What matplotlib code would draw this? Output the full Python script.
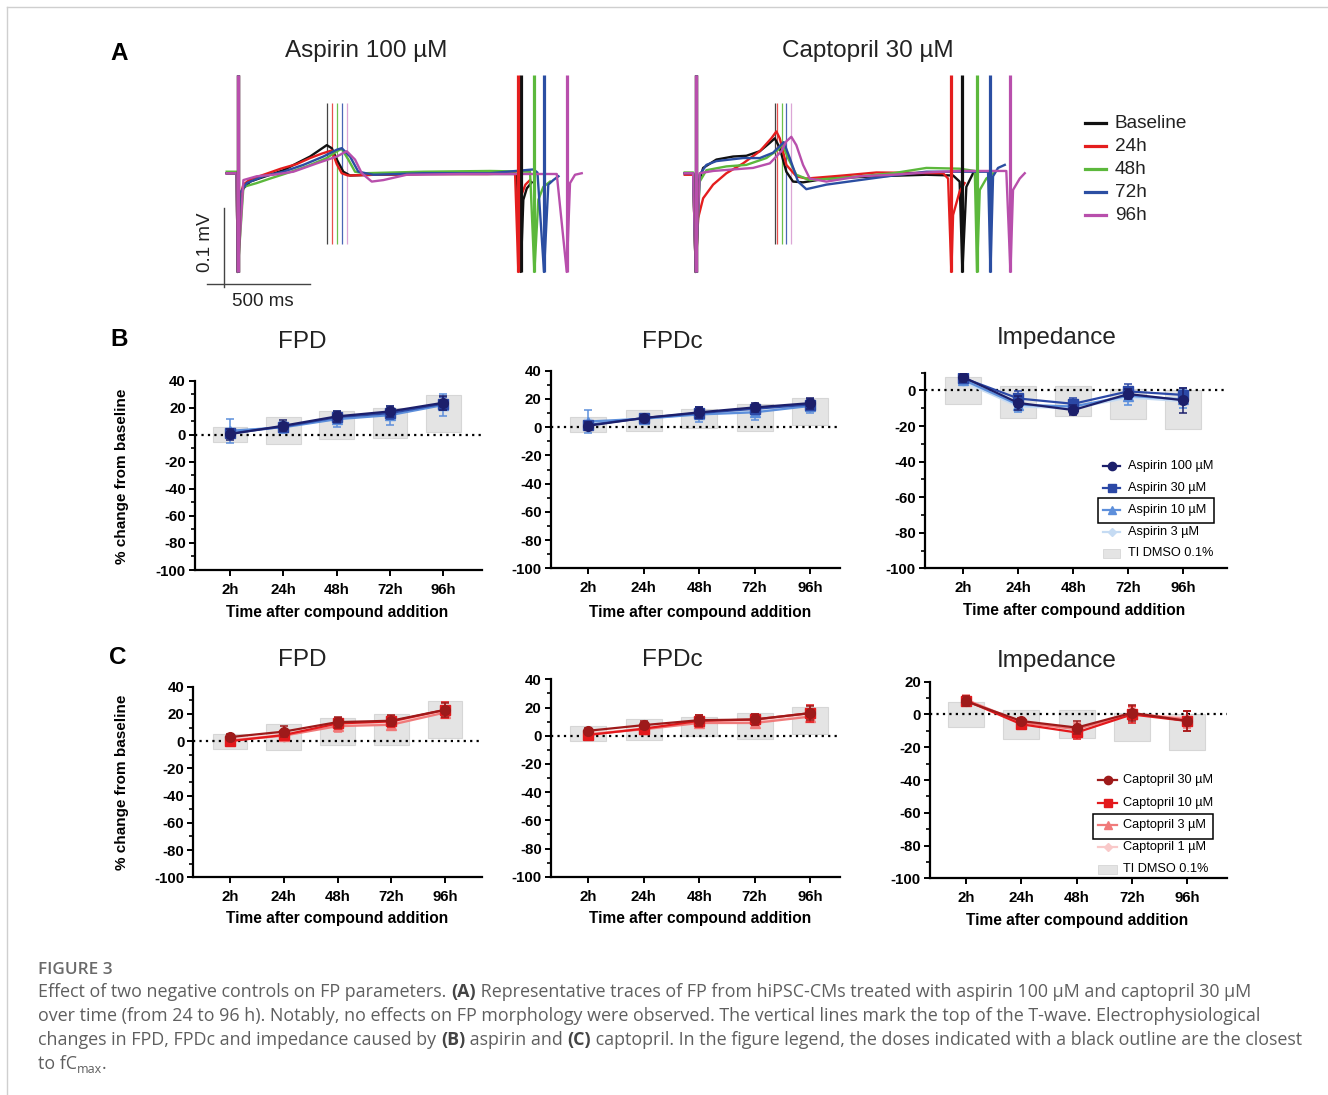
import matplotlib
matplotlib.use('Agg')
import matplotlib.pyplot as plt
from matplotlib.lines import Line2D
from matplotlib.patches import Rectangle
from matplotlib.ticker import MultipleLocator
import numpy as np

plt.rcParams['font.family'] = ['Liberation Sans', 'DejaVu Sans']
plt.rcParams['axes.unicode_minus'] = False

# ====================== DATA ======================
# ---- Panel A: representative field-potential traces (time in ms, voltage in uV)
TRACE_LABELS = ['Baseline', '24h', '48h', '72h', '96h']

ASP_BASE_T = [-64, -6, 0, 14, 33, 72, 110, 188, 265, 342, 420, 478, 517, 546, 575, 613, 652, 788, 1078, 1465, 1620, 1643, 1658, 1678, 1707]
ASP_BASE_V = [0, 0, -130, -35, -20, -11, -8, -2, 4, 13, 22, 31, 37, 33, 18, 2, -3, -2, -1, -1, -1, -130, -35, -20, -12]
ASP_24_T = [-64, -6, 0, 14, 33, 72, 150, 250, 342, 420, 490, 546, 575, 604, 640, 800, 1100, 1450, 1610, 1629, 1645, 1670, 1697]
ASP_24_V = [0, 0, -130, -30, -15, -8, -2, 6, 12, 20, 26, 30, 12, 0, -3, -2, -1, -1, 0, -130, -30, -15, -9]
ASP_48_T = [-64, -6, 0, 33, 110, 188, 284, 400, 517, 575, 604, 642, 681, 730, 1078, 1465, 1697, 1722, 1745, 1774, 1813]
ASP_48_V = [2, 2, -130, -18, -13, -7, 0, 9, 20, 29, 32, 18, 2, 0, 2, 3, 2, -130, -35, -18, -11]
ASP_72_T = [-64, -6, 0, 14, 52, 149, 265, 381, 497, 575, 604, 652, 700, 788, 1078, 1465, 1716, 1740, 1778, 1803, 1832, 1862]
ASP_72_V = [0, 0, -130, -26, -13, -4, 2, 11, 22, 31, 33, 22, 2, -2, 0, 0, 5, 1, -130, -15, -9, -4]
ASP_96_T = [-64, -6, 0, 33, 110, 207, 323, 459, 575, 633, 681, 720, 778, 846, 981, 1300, 1852, 1910, 1929, 1958, 1997]
ASP_96_V = [0, 0, -130, -9, -4, -2, 2, 13, 22, 29, 18, 0, -11, -9, -2, -1, -1, -130, -13, -2, 0]
ASP_SPIKE2 = [1643, 1629, 1722, 1778, 1910]
ASP_TPEAK = [517, 546, 575, 608, 633]

CAP_BASE_T = [-64, -15, 0, 14, 43, 120, 217, 294, 372, 430, 459, 488, 526, 565, 623, 759, 1049, 1339, 1494, 1532, 1548, 1571, 1610]
CAP_BASE_V = [0, 0, -130, -15, 7, 18, 22, 23, 29, 40, 46, 33, 2, -11, -12, -7, -4, -2, -3, -11, -130, -18, 0]
CAP_24_T = [-64, -15, 0, 14, 43, 101, 178, 275, 372, 439, 468, 488, 526, 584, 642, 855, 1049, 1436, 1465, 1484, 1494, 1532, 1561]
CAP_24_V = [-2, -2, -130, -59, -33, -15, 0, 13, 29, 46, 55, 46, 11, -4, -7, -3, 1, 0, -7, -130, -55, -24, -13]
CAP_48_T = [-64, -15, 0, 23, 62, 178, 294, 410, 478, 503, 536, 584, 662, 855, 1146, 1339, 1532, 1620, 1633, 1649, 1687, 1726]
CAP_48_V = [1, 1, -130, -11, 4, 9, 11, 20, 31, 38, 20, -2, -9, -6, 0, 7, 6, 3, -130, -22, -7, 0]
CAP_72_T = [-64, -15, 0, 23, 62, 120, 275, 372, 449, 511, 546, 594, 642, 759, 952, 1146, 1339, 1697, 1711, 1726, 1755, 1794]
CAP_72_V = [0, 0, -130, -2, 11, 16, 20, 20, 27, 41, 20, -11, -21, -15, -9, -3, 2, 2, -130, -4, 7, 11]
CAP_96_T = [-64, -15, 0, 23, 101, 217, 333, 430, 497, 526, 555, 584, 623, 662, 759, 952, 1146, 1339, 1532, 1803, 1827, 1842, 1881, 1910]
CAP_96_V = [0, 0, -130, 0, 3, 5, 7, 13, 29, 42, 48, 37, 11, -7, -11, -4, -2, 1, 3, 3, -130, -22, -7, 0]
CAP_SPIKE2 = [1548, 1484, 1633, 1711, 1827]
CAP_TPEAK = [459, 472, 503, 522, 551]

SCALE_MS = 500
SCALE_UV = 100

# ---- Panels B / C: % change from baseline
TIMEPOINTS = ['2h', '24h', '48h', '72h', '96h']

# tolerance interval of DMSO 0.1 % (low / high)
TI_FPD_LO = [-5.7, -6.7, -3.0, -2.5, 2.0]
TI_FPD_HI = [5.4, 12.8, 17.3, 20.1, 29.5]
TI_FPDC_LO = [-3.7, -3.0, -0.5, -2.6, 1.3]
TI_FPDC_HI = [7.0, 12.0, 13.2, 16.3, 20.5]
TI_IMP_LO = [-7.8, -15.2, -14.5, -16.3, -21.4]
TI_IMP_HI = [7.6, 2.5, 2.5, 0.6, 0.4]

ASP_LABELS = ['Aspirin 100 µM', 'Aspirin 30 µM', 'Aspirin 10 µM', 'Aspirin 3 µM']
ASP_FPD = [[0.5, 6.7, 13.6, 17.3, 23.7], [1, 6, 13, 16, 23], [3, 5.5, 11.5, 14.5, 22], [2, 6, 12, 15, 23]]
ASP_FPD_ERR = [[4, 4, 4, 4, 5], [3, 3, 4, 4, 5], [9, 4, 6, 7, 8], [3, 3, 4, 4, 5]]
ASP_FPDC = [[1, 6.5, 10.5, 14, 17], [1.5, 6.5, 10, 13, 16], [4, 6, 9, 10.5, 15], [3, 6, 9.5, 11, 15.5]]
ASP_FPDC_ERR = [[3, 2, 4, 3, 4], [3, 2, 4, 3, 4], [8, 2, 5, 5.5, 5], [3, 2, 4, 4, 4]]
ASP_IMP = [[7.5, -7, -11, -2, -5.5], [7, -4.5, -7.5, -0.5, -2.5], [6, -8, -9, -3, -5], [5, -9, -10, -4, -6]]
ASP_IMP_ERR = [[3, 4, 3, 3, 7], [3, 4, 3, 4, 4], [3, 4, 3, 5, 5], [2, 3, 3, 4, 4]]

CAP_LABELS = ['Captopril 30 µM', 'Captopril 10 µM', 'Captopril 3 µM', 'Captopril 1 µM']
CAP_FPD = [[3, 7, 14, 15, 23], [0, 4.5, 13, 14.5, 23], [0.5, 4, 11, 12, 21], [1, 5, 12, 13, 22]]
CAP_FPD_ERR = [[2, 4, 4, 4, 5], [2, 3, 4, 4, 6], [2, 3, 4, 4, 4], [2, 3, 3, 3, 4]]
CAP_FPDC = [[3.5, 7.5, 11, 11.5, 16], [0.5, 5, 10.5, 11.5, 16], [1, 4.5, 9, 9, 13.5], [1.5, 5, 9.5, 10, 14]]
CAP_FPDC_ERR = [[2, 3, 4, 4, 5], [2, 3, 4, 4, 6], [2, 3, 3, 3, 4], [2, 2, 3, 3, 3]]
CAP_IMP = [[8, -4, -8, 1, -4], [8.5, -6, -11, 0, -4], [9, -5, -9, 0.5, -3], [9, -4.5, -8.5, 0, -2]]
CAP_IMP_ERR = [[3, 2, 4, 5, 6], [3, 3, 4, 5, 6], [3, 3, 4, 4, 5], [2, 2, 3, 3, 4]]

# ====================== STYLE ======================
W, H = 1328, 1095
fig = plt.figure(figsize=(W / 100, H / 100), dpi=100)
fig.patch.set_facecolor('white')

TRACE_COLORS = ['#111111', '#e41e1e', '#5cb83c', '#2b4ea2', '#b84fac']
MARK_COLORS = ['#444444', '#e8504f', '#6cc04c', '#4a66b4', '#dba6d6']
ASP_COLORS = ['#1c1f6b', '#2b48a6', '#5d8fdb', '#c5dbf3']
CAP_COLORS = ['#9e1a1a', '#e3191c', '#f07a7a', '#f9c9c9']
MARKERS = ['o', 's', '^', 'D']
MSIZES = [7, 6.5, 6.5, 4.5]
BAR_COLOR = '#e4e4e4'


def fx(x):
    return x / W


def fy(y):
    return 1 - y / H


def add_axes_px(x0, y0, x1, y1):
    return fig.add_axes([x0 / W, 1 - y1 / H, (x1 - x0) / W, (y1 - y0) / H])


def ftext(x, y, s, **kw):
    return fig.text(fx(x), fy(y), s, **kw)


# ---------------- outer light border ----------------
fig.add_artist(Line2D([fx(7), fx(7)], [fy(7), fy(1095)], color='#cfcfcf', lw=1.0, transform=fig.transFigure))
fig.add_artist(Line2D([fx(7), fx(1328)], [fy(7), fy(7)], color='#cfcfcf', lw=1.0, transform=fig.transFigure))

# ---------------- Panel A ----------------
def trace_panel(x0, traces, spike2, tpeak, scalebar=False):
    ax = add_axes_px(x0, 70, x0 + 390, 300)
    ax.set_xlim(-219, 2045)
    ax.set_ylim(-167, 136)
    ax.axis('off')
    for i, (t, v) in enumerate(traces):
        ax.plot(t, v, color=TRACE_COLORS[i], lw=1.7, zorder=3 + i, solid_joinstyle='round')
    for i in range(5):
        ax.vlines(tpeak[i], -93, 93, color=MARK_COLORS[i], lw=0.9, zorder=2)
    for i in range(5):
        ax.vlines(0, -130, 130, color=TRACE_COLORS[i], lw=2.3, zorder=10 + i)
        ax.vlines(spike2[i], -130, 130, color=TRACE_COLORS[i], lw=2.3, zorder=10 + i)
    if scalebar:
        t0, v0 = -79, -146
        ax.plot([t0 - 100, t0 + SCALE_MS], [v0, v0], color='#444444', lw=1.0, clip_on=False)
        ax.plot([t0, t0], [v0 - 4, v0 + SCALE_UV], color='#444444', lw=1.0, clip_on=False)
    return ax


trace_panel(200, [(ASP_BASE_T, ASP_BASE_V), (ASP_24_T, ASP_24_V), (ASP_48_T, ASP_48_V),
                  (ASP_72_T, ASP_72_V), (ASP_96_T, ASP_96_V)], ASP_SPIKE2, ASP_TPEAK, scalebar=True)
trace_panel(658, [(CAP_BASE_T, CAP_BASE_V), (CAP_24_T, CAP_24_V), (CAP_48_T, CAP_48_V),
                  (CAP_72_T, CAP_72_V), (CAP_96_T, CAP_96_V)], CAP_SPIKE2, CAP_TPEAK)

ftext(205, 242, '0.1 mV', rotation=90, ha='center', va='center', fontsize=13.5, color='#222222')
ftext(263, 302, '500 ms', ha='center', va='center', fontsize=13.5, color='#222222')
ftext(366, 51, 'Aspirin 100 µM', ha='center', va='center', fontsize=17.5, color='#222222')
ftext(868, 51, 'Captopril 30 µM', ha='center', va='center', fontsize=17.5, color='#222222')

# legend for traces
for i, (lab, yy) in enumerate(zip(TRACE_LABELS, [123.3, 146.3, 169.3, 192.3, 215.3])):
    fig.add_artist(Line2D([fx(1085), fx(1106)], [fy(yy), fy(yy)], color=TRACE_COLORS[i], lw=2.3,
                          transform=fig.transFigure))
    ftext(1115, yy, lab, ha='left', va='center', fontsize=13.7, color='#222222')

# panel letters
for lab, (x, y) in zip(['A', 'B', 'C'], [(119, 53), (119, 339), (118, 658)]):
    ftext(x, y, lab, ha='center', va='center', fontsize=17.5, fontweight='bold')


# ---------------- Panels B / C ----------------
def summary_panel(box, xlim, ylim, ymajor, lo, hi, values, errs, colors):
    ax = add_axes_px(*box)
    x = np.arange(len(TIMEPOINTS))
    lo = np.array(lo)
    hi = np.array(hi)
    ax.bar(x, hi - lo, bottom=lo, width=0.65, color=BAR_COLOR, edgecolor='#d6d6d6', lw=0.8, zorder=1)
    ax.axhline(0, color='black', ls=(0, (1, 1.9)), lw=1.6, zorder=2)
    for k in reversed(range(len(values))):
        ax.errorbar(x, values[k], yerr=errs[k], color=colors[k], marker=MARKERS[k], ms=MSIZES[k],
                    lw=1.6, elinewidth=1.1, capsize=3, capthick=1.1, zorder=5 + (3 - k))
    ax.set_xlim(*xlim)
    ax.set_ylim(*ylim)
    ax.set_xticks(x)
    ax.set_xticklabels(TIMEPOINTS)
    ax.yaxis.set_major_locator(MultipleLocator(ymajor))
    ax.yaxis.set_minor_locator(MultipleLocator(10))
    for s in ['top', 'right']:
        ax.spines[s].set_visible(False)
    for s in ['left', 'bottom']:
        ax.spines[s].set_linewidth(1.6)
    ax.tick_params(axis='both', which='major', length=4.5, width=1.4, labelsize=10.8, pad=2)
    ax.tick_params(axis='x', which='major', pad=5)
    ax.tick_params(axis='y', which='minor', length=3, width=1.2)
    for lab in ax.get_xticklabels() + ax.get_yticklabels():
        lab.set_fontweight('bold')
    ax.set_facecolor('none')
    return ax


summary_panel((195, 380.7, 481.7, 570), (-0.656, 4.72), (-100, 40), 20,
              TI_FPD_LO, TI_FPD_HI, ASP_FPD, ASP_FPD_ERR, ASP_COLORS)
summary_panel((550.7, 370.7, 840, 568.3), (-0.678, 4.541), (-100, 40), 20,
              TI_FPDC_LO, TI_FPDC_HI, ASP_FPDC, ASP_FPDC_ERR, ASP_COLORS)
summary_panel((925, 372.7, 1226.7, 568.3), (-0.696, 4.789), (-100, 10), 20,
              TI_IMP_LO, TI_IMP_HI, ASP_IMP, ASP_IMP_ERR, ASP_COLORS)
summary_panel((193.3, 686.7, 481.7, 877.3), (-0.683, 4.683), (-100, 40), 20,
              TI_FPD_LO, TI_FPD_HI, CAP_FPD, CAP_FPD_ERR, CAP_COLORS)
summary_panel((550.7, 679.3, 840, 876.7), (-0.678, 4.541), (-100, 40), 20,
              TI_FPDC_LO, TI_FPDC_HI, CAP_FPDC, CAP_FPDC_ERR, CAP_COLORS)
summary_panel((930, 681.7, 1226.7, 878.3), (-0.651, 4.712), (-100, 20), 20,
              TI_IMP_LO, TI_IMP_HI, CAP_IMP, CAP_IMP_ERR, CAP_COLORS)

# titles
for s, (x, y) in zip(['FPD', 'FPDc', 'Impedance', 'FPD', 'FPDc', 'Impedance'],
                     [(302, 342), (672, 342), (1057, 338), (302, 660), (672, 660), (1057, 661)]):
    ftext(x, y, s, ha='center', va='center', fontsize=17.5, color='#222222')
# x labels
for (x, y) in [(337, 612), (700, 612), (1074, 610), (337, 919), (700, 919), (1077, 921)]:
    ftext(x, y, 'Time after compound addition', ha='center', va='center', fontsize=11.2, fontweight='bold')
# y labels
for y in [476, 782]:
    ftext(122, y, '% change from baseline', rotation=90, ha='center', va='center', fontsize=11,
          fontweight='bold')


# legends
def legend_block(hx0, hx1, tx, rows, labels, colors, patch_y, box):
    for k, (lab, yy) in enumerate(zip(labels, rows)):
        fig.add_artist(Line2D([fx(hx0), fx(hx1)], [fy(yy), fy(yy)], color=colors[k], lw=1.6,
                              transform=fig.transFigure))
        fig.add_artist(Line2D([fx((hx0 + hx1) / 2)], [fy(yy)], color=colors[k], marker=MARKERS[k],
                              ms=MSIZES[k] * 0.85, lw=0, transform=fig.transFigure))
        ftext(tx, yy, lab, ha='left', va='center', fontsize=9.2)
    fig.add_artist(Rectangle((fx(hx0), fy(patch_y + 4.5)), (hx1 - hx0) / W, 9 / H, facecolor=BAR_COLOR,
                             edgecolor='#d6d6d6', lw=0.6, transform=fig.transFigure))
    ftext(tx, patch_y, 'TI DMSO 0.1%', ha='left', va='center', fontsize=9.2)
    bx0, by0, bx1, by1 = box
    fig.add_artist(Rectangle((fx(bx0), fy(by1)), (bx1 - bx0) / W, (by1 - by0) / H, fill=False,
                             edgecolor='black', lw=1.1, transform=fig.transFigure))


legend_block(1103, 1120, 1128, [466, 487.7, 510, 532.3], ASP_LABELS, ASP_COLORS, 553.3,
             (1098, 498.3, 1214.3, 522.7))
legend_block(1098.3, 1117.3, 1123.3, [780, 802.7, 825, 846.7], CAP_LABELS, CAP_COLORS, 869,
             (1093.3, 814, 1213.3, 838.7))

# ---------------- caption ----------------
renderer = fig.canvas.get_renderer()
CAP_FONT = 'Open Sans'
CAP_SIZE = 12.9
CAP_COLOR = '#5f5f5f'


def advance(s, **kw):
    t1 = fig.text(0, 0, '|' + s + '|', **kw)
    t2 = fig.text(0, 0, '||', **kw)
    w = t1.get_window_extent(renderer).width - t2.get_window_extent(renderer).width
    t1.remove()
    t2.remove()
    return w


def run_line(x, y, runs):
    for s, style in runs:
        kw = dict(family=CAP_FONT, color=CAP_COLOR, fontsize=CAP_SIZE)
        yy = y
        if style == 'bold':
            kw['fontweight'] = 'bold'
            kw['color'] = '#444444'
        if style == 'sub':
            kw['fontsize'] = CAP_SIZE * 0.7
            yy = y + 4
        ftext(x, yy, s, ha='left', va='baseline', **kw)
        x += advance(s, **kw)


ftext(38, 974, 'FIGURE 3', ha='left', va='baseline', family=CAP_FONT, fontsize=12.3, fontweight='semibold',
      color='#6a6a6a')
CAPTION = [
    [("Effect of two negative controls on FP parameters. ", 'n'), ("(A)", 'bold'),
     (" Representative traces of FP from hiPSC-CMs treated with aspirin 100 µM and captopril 30 µM", 'n')],
    [("over time (from 24 to 96 h). Notably, no effects on FP morphology were observed. The vertical lines mark "
      "the top of the T-wave. Electrophysiological", 'n')],
    [("changes in FPD, FPDc and impedance caused by ", 'n'), ("(B)", 'bold'), (" aspirin and ", 'n'),
     ("(C)", 'bold'), (" captopril. In the figure legend, the doses indicated with a black outline are the closest", 'n')],
    [("to fC", 'n'), ("max", 'sub'), (".", 'n')],
]
for line, yb in zip(CAPTION, [997, 1021, 1045, 1069]):
    run_line(38, yb, line)

fig.savefig('out.png', dpi=100)
